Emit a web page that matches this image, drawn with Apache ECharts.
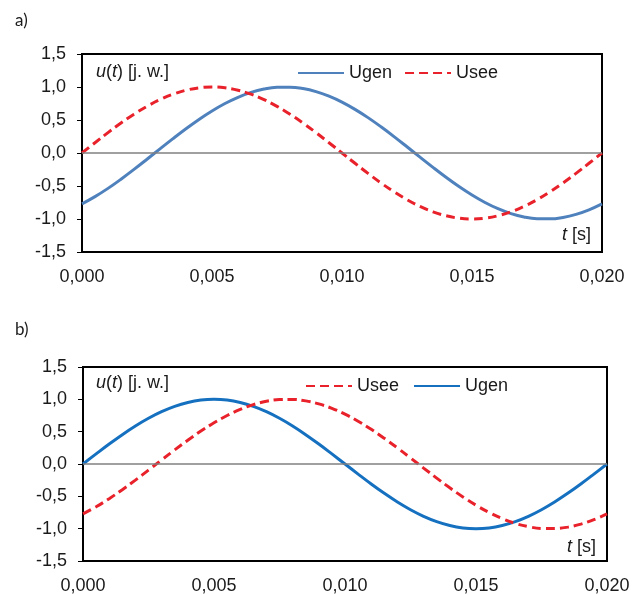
<!DOCTYPE html>
<html>
<head>
<meta charset="utf-8">
<script src="https://cdn.jsdelivr.net/npm/echarts@6/dist/echarts.min.js"></script>
<style>
  html, body { margin: 0; padding: 0; background: #ffffff; }
  #chart { width: 638px; height: 595px; }
</style>
</head>
<body>
<div id="chart"></div>
<script>
// time axis, seconds
const times = [
  0, 0.0005, 0.001, 0.0015, 0.002, 0.0025, 0.003, 0.0035, 0.004, 0.0045,
  0.005, 0.0055, 0.006, 0.0065, 0.007, 0.0075, 0.008, 0.0085, 0.009, 0.0095,
  0.010, 0.0105, 0.011, 0.0115, 0.012, 0.0125, 0.013, 0.0135, 0.014, 0.0145,
  0.015, 0.0155, 0.016, 0.0165, 0.017, 0.0175, 0.018, 0.0185, 0.019, 0.0195,
  0.020
]

// in-phase wave (zero at t = 0)
const waveInPhase = [
  0, 0.156, 0.309, 0.454, 0.588, 0.707, 0.809, 0.891, 0.951, 0.988,
  1.0, 0.988, 0.951, 0.891, 0.809, 0.707, 0.588, 0.454, 0.309, 0.156,
  0, -0.156, -0.309, -0.454, -0.588, -0.707, -0.809, -0.891, -0.951, -0.988,
  -1.0, -0.988, -0.951, -0.891, -0.809, -0.707, -0.588, -0.454, -0.309, -0.156,
  0
]

// lagging wave (zero crossing near 0.0028 s)
const waveLagging = [
  -0.771, -0.661, -0.536, -0.397, -0.249, -0.094, 0.063, 0.218, 0.368, 0.509,
  0.637, 0.750, 0.844, 0.918, 0.969, 0.996, 0.998, 0.976, 0.930, 0.861,
  0.771, 0.661, 0.536, 0.397, 0.249, 0.094, -0.063, -0.218, -0.368, -0.509,
  -0.637, -0.750, -0.844, -0.918, -0.969, -0.996, -0.998, -0.976, -0.930, -0.861,
  -0.771
]

// panel a: Ugen lags, Usee in phase; panel b: the reverse
const ugenA = waveLagging
const useeA = waveInPhase
const ugenB = waveInPhase
const useeB = waveLagging

const xTicks = { min: 0, max: 0.02, interval: 0.005 }
const yTicks = { min: -1.5, max: 1.5, interval: 0.5 }

const labelFont = '"Liberation Sans", Arial, sans-serif'
const textColor = '#1a1a1a'
const red = '#e8212a'
const blueA = '#4f81bd'
const blueB = '#1570c0'

const toPairs = (values) => values.map((v, i) => [times[i], v])

const grids = [
  { left: 82, top: 54, width: 520, height: 198 },
  { left: 83, top: 367, width: 524, height: 194 }
]

const makeX = (gridIndex) => ({
  type: 'value',
  gridIndex,
  min: xTicks.min,
  max: xTicks.max,
  interval: xTicks.interval,
  axisLine: { show: true, onZero: false, lineStyle: { color: '#000', width: 2 } },
  axisTick: { show: false },
  splitLine: { show: false },
  axisLabel: {
    color: textColor,
    fontFamily: labelFont,
    fontSize: 18,
    margin: 16,
    formatter: (v) => v.toFixed(3).replace('.', ',')
  }
})

const makeY = (gridIndex) => ({
  type: 'value',
  gridIndex,
  min: yTicks.min,
  max: yTicks.max,
  interval: yTicks.interval,
  axisLine: { show: true, lineStyle: { color: '#000', width: 2 } },
  axisTick: { show: true, length: 5, lineStyle: { color: '#000', width: 1 } },
  splitLine: { show: false },
  axisLabel: {
    color: textColor,
    fontFamily: labelFont,
    fontSize: 18,
    margin: 16,
    formatter: (v) => v.toFixed(1).replace('.', ',')
  }
})

const zeroLine = {
  silent: true,
  symbol: 'none',
  label: { show: false },
  lineStyle: { color: '#808080', width: 1.5, type: 'solid' },
  data: [{ yAxis: 0 }]
}

const makeSeries = (name, values, idx, color, dashed, withZero) => ({
  name,
  type: 'line',
  xAxisIndex: idx,
  yAxisIndex: idx,
  smooth: 0.4,
  symbol: 'none',
  z: 3,
  lineStyle: { color, width: 3, type: dashed ? [9, 5] : 'solid' },
  itemStyle: { color },
  data: toPairs(values),
  markLine: withZero ? zeroLine : undefined
})

const legendBase = {
  itemWidth: 46,
  itemHeight: 12,
  itemStyle: { opacity: 0 },
  textStyle: { fontFamily: labelFont, fontSize: 18, color: textColor }
}

const italic = { i: { fontStyle: 'italic', fontSize: 18, fontFamily: labelFont, fill: textColor } }

const unitText = (left, top, text) => ({
  type: 'text',
  left,
  top,
  style: { text, fill: textColor, font: '18px ' + labelFont, rich: italic }
})

const chart = echarts.init(document.getElementById('chart'))

chart.setOption({
  animation: false,
  grid: grids.map((g) => ({ ...g, show: true, borderColor: '#000', borderWidth: 2, backgroundColor: '#fff' })),
  xAxis: [makeX(0), makeX(1)],
  yAxis: [makeY(0), makeY(1)],
  legend: [
    { ...legendBase, left: 292, top: 59, itemGap: 12, data: ['Ugen', 'Usee'] },
    { ...legendBase, left: 300, top: 372, itemGap: 9, data: ['Usee ', 'Ugen '] }
  ],
  series: [
    makeSeries('Ugen', ugenA, 0, blueA, false, true),
    makeSeries('Usee', useeA, 0, red, true, false),
    makeSeries('Ugen ', ugenB, 1, blueB, false, true),
    makeSeries('Usee ', useeB, 1, red, true, false)
  ],
  graphic: [
    { type: 'text', left: 15, top: 12, style: { text: 'a)', fill: textColor, font: '17px Lato, sans-serif' } },
    { type: 'text', left: 15, top: 321, style: { text: 'b)', fill: textColor, font: '17px Lato, sans-serif' } },
    unitText(96, 63, '{i|u}({i|t}) [j. w.]'),
    unitText(96, 374, '{i|u}({i|t}) [j. w.]'),
    unitText(562, 226, '{i|t} [s]'),
    unitText(567, 538, '{i|t} [s]')
  ]
})
</script>
</body>
</html>
